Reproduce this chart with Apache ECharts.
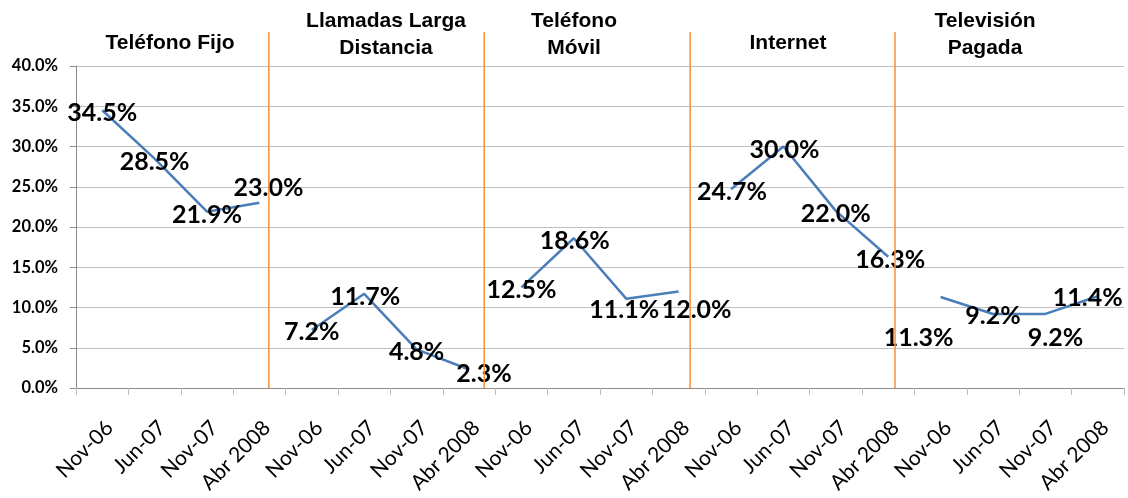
<!DOCTYPE html>
<html>
<head>
<meta charset="utf-8">
<script src="https://cdn.jsdelivr.net/npm/echarts@6/dist/echarts.min.js"></script>
<style>
  html, body { margin: 0; padding: 0; background: #fff; }
  #chart { width: 1128px; height: 498px; }
</style>
</head>
<body>
<div id="chart"></div>
<script>
// fechas de cada grupo (se repiten en los 5 servicios)
const periods = ['Nov-06', 'Jun-07', 'Nov-07', 'Abr 2008'];
const groups = ['Teléfono Fijo', 'Llamadas Larga\nDistancia', 'Teléfono\nMóvil', 'Internet', 'Televisión\nPagada'];

const telefonoFijo = [34.5, 28.5, 21.9, 23.0];
const larga = [7.2, 11.7, 4.8, 2.3];
const movil = [12.5, 18.6, 11.1, 12.0];
const internet = [24.7, 30.0, 22.0, 16.3];
const tvPagada = [11.3, 9.2, 9.2, 11.4];

const yTicks = [0, 5, 10, 15, 20, 25, 30, 35, 40];

// posiciones manuales de las etiquetas (como en el original de Excel)
const labelOffsets = [
  [[0, 3], [0, 3], [0, 3], [9, -15]],
  [[0, 2], [1, 3], [0, 3], [15, 4]],
  [[0, 3], [1, 3], [-2, 11], [18, 19]],
  [[1, 3], [1, 3], [0, 3], [2, 3]],
  [[-22, 41], [0, 2], [10, 24], [-10, 2]]
];
// separadores naranjas, en unidades de categoria
const separators = [3.68, 7.79, 11.72, 15.63];
// titulos: centro x (px) y lineas
const titlePos = [[170, 1], [386, 2], [574, 2], [788, 1], [985, 2]];

const seriesData = [telefonoFijo, larga, movil, internet, tvPagada];
let categories = [];
groups.forEach(function () { categories = categories.concat(periods); });

let series = seriesData.map(function (vals, g) {
  let data = categories.map(function () { return '-'; });
  vals.forEach(function (v, i) {
    data[g * 4 + i] = {
      value: v,
      label: { offset: labelOffsets[g][i] }
    };
  });
  return {
    type: 'line',
    data: data,
    showSymbol: true,
    symbol: 'circle',
    symbolSize: 1,
    silent: true,
    itemStyle: { color: 'rgba(0,0,0,0)', borderWidth: 0 },
    lineStyle: { color: '#4A7EBB', width: 2.5 },
    label: {
      show: true,
      position: 'inside',
      formatter: function (p) { return p.value.toFixed(1) + '%'; },
      fontFamily: 'Lato',
      fontWeight: 'bold',
      fontSize: 25,
      color: '#000'
    }
  };
});

let myChart = echarts.init(document.getElementById('chart'));
let option = {
  animation: false,
  grid: { left: 76, right: 4, top: 66, bottom: 110 },
  xAxis: [
    {
      type: 'category',
      data: categories,
      boundaryGap: true,
      axisLine: { lineStyle: { color: '#8c8c8c', width: 1 } },
      axisTick: { show: true, interval: 0, length: 7, lineStyle: { color: '#bdbdbd' } },
      axisLabel: {
        interval: 0,
        rotate: 45,
        margin: 29,
        verticalAlign: 'top',
        fontFamily: 'Lato',
        fontSize: 21,
        color: '#000'
      },
      splitLine: { show: false }
    },
    {
      // eje auxiliar para ubicar los separadores
      type: 'value',
      min: 0,
      max: 20,
      show: false
    }
  ],
  yAxis: {
    type: 'value',
    min: yTicks[0],
    max: yTicks[yTicks.length - 1],
    interval: 5,
    axisLine: { show: true, lineStyle: { color: '#8c8c8c' } },
    axisTick: { show: true, length: 6, lineStyle: { color: '#8c8c8c' } },
    axisLabel: {
      margin: 18,
      fontFamily: 'Lato',
      fontWeight: 'bold',
      fontSize: 16.5,
      color: '#000',
      formatter: function (v) { return v.toFixed(1) + '%'; }
    },
    splitLine: { lineStyle: { color: '#bfbfbf', width: 1.2 } }
  },
  series: series
};
myChart.setOption(option);

// separadores y titulos de grupo
let graphics = [];
let bottomY = myChart.convertToPixel({ yAxisIndex: 0 }, 0);
separators.forEach(function (s) {
  let x = myChart.convertToPixel({ xAxisIndex: 1 }, s);
  graphics.push({
    type: 'line',
    z: 10,
    shape: { x1: x, y1: 32, x2: x, y2: bottomY },
    style: { stroke: '#F79646', lineWidth: 1.6 }
  });
});
groups.forEach(function (name, g) {
  let lines = name.split('\n');
  lines.forEach(function (t, k) {
    let y = titlePos[g][1] === 1 ? 43 : (k === 0 ? 21 : 48);
    graphics.push({
      type: 'text',
      z: 10,
      style: {
        x: titlePos[g][0],
        y: y,
        text: t,
        align: 'center',
        verticalAlign: 'middle',
        font: 'bold 21px "Liberation Sans"',
        fill: '#000'
      }
    });
  });
});
myChart.setOption({ graphic: graphics });

window.addEventListener('resize', function () {
  myChart.resize();
});
</script>
</body>
</html>
